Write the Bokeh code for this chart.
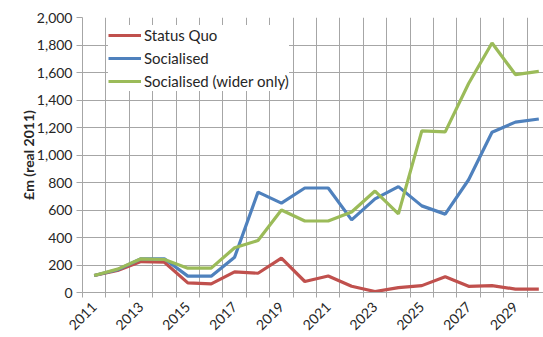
import math
from bokeh.plotting import figure
from bokeh.models import Range1d, FixedTicker, NumeralTickFormatter, Legend, LegendItem
from bokeh.embed import file_html
from bokeh.resources import INLINE

years = list(range(2011, 2031))
status_quo = [124, 160, 225, 220, 70, 63, 150, 140, 250, 80, 120, 45, 7, 35, 50, 115, 45, 50, 25, 25]
socialised = [124, 165, 245, 245, 119, 119, 257, 730, 650, 760, 760, 528, 681, 770, 630, 570, 820, 1166, 1239, 1262]
socialised_wider = [124, 170, 245, 240, 177, 177, 325, 378, 600, 520, 520, 585, 738, 572, 1175, 1168, 1520, 1815, 1585, 1608]
x_tick_labels = [2011, 2013, 2015, 2017, 2019, 2021, 2023, 2025, 2027, 2029]
y_ticks = list(range(0, 2001, 200))

FONT = "Lato"
TXT = "#262626"
GRID = "#a6a6a6"

p = figure(width=543, height=337, output_backend="svg", toolbar_location=None,
           x_range=Range1d(2010.5, 2030.2), y_range=Range1d(0, 2000),
           min_border_left=82, min_border_right=0, min_border_top=17, min_border_bottom=45)
p.outline_line_color = None
p.background_fill_color = "white"

r1 = p.line(years, status_quo, line_color="#C0504D", line_width=3.2)
r2 = p.line(years, socialised, line_color="#4F81BD", line_width=3.2)
r3 = p.line(years, socialised_wider, line_color="#9BBB59", line_width=3.2)

half = [y - 0.5 for y in years] + [years[-1] + 0.5]
xa = p.xaxis[0]
xa.ticker = FixedTicker(ticks=x_tick_labels, minor_ticks=half)
xa.major_tick_line_color = None
xa.minor_tick_line_color = GRID
xa.minor_tick_out = 5
xa.minor_tick_in = 0
xa.axis_line_color = GRID
xa.major_label_orientation = math.pi / 4
xa.major_label_text_font = FONT
xa.major_label_text_font_size = "14px"
xa.major_label_text_color = TXT
xa.major_label_standoff = 6

ya = p.yaxis[0]
ya.ticker = FixedTicker(ticks=y_ticks)
ya.formatter = NumeralTickFormatter(format="0,0")
ya.major_tick_line_color = GRID
ya.major_tick_out = 6
ya.major_tick_in = 0
ya.minor_tick_line_color = None
ya.axis_line_color = GRID
ya.major_label_text_font = FONT
ya.major_label_text_font_size = "14px"
ya.major_label_text_color = TXT
ya.major_label_standoff = 4
ya.axis_label = "£m (real 2011)"
ya.axis_label_text_font = FONT
ya.axis_label_text_font_style = "bold"
ya.axis_label_text_font_size = "14px"
ya.axis_label_text_color = TXT
ya.axis_label_standoff = -3

p.xgrid.ticker = FixedTicker(ticks=half)
p.xgrid.grid_line_color = GRID
p.ygrid.ticker = FixedTicker(ticks=y_ticks)
p.ygrid.grid_line_color = GRID

legend = Legend(items=[LegendItem(label="Status Quo", renderers=[r1]),
                       LegendItem(label="Socialised", renderers=[r2]),
                       LegendItem(label="Socialised (wider only)", renderers=[r3])],
                location=(26, 201))
legend.border_line_color = None
legend.background_fill_color = "white"
legend.background_fill_alpha = 1
legend.label_text_font = FONT
legend.label_text_font_size = "15px"
legend.label_text_color = TXT
legend.glyph_width = 33
legend.glyph_height = 20
legend.label_height = 20
legend.label_standoff = 3
legend.spacing = 3
legend.padding = 10
legend.margin = 0
p.add_layout(legend)

open("out.html", "w").write(file_html(p, INLINE))
